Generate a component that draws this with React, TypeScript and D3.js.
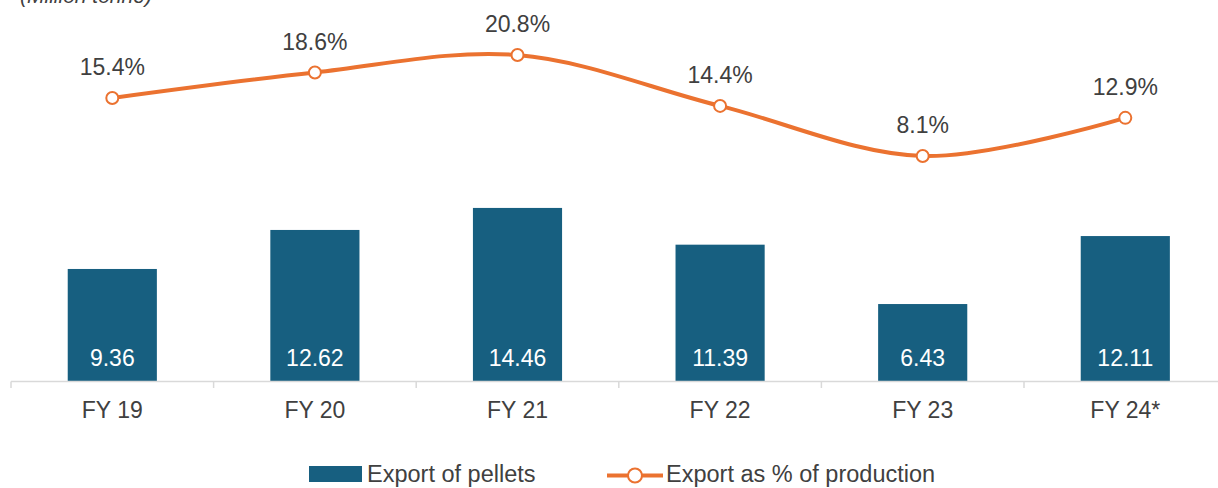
import React, { useEffect, useRef } from 'react'
import * as d3 from 'd3'

const categories = ['FY 19', 'FY 20', 'FY 21', 'FY 22', 'FY 23', 'FY 24*']
const pellets = [9.36, 12.62, 14.46, 11.39, 6.43, 12.11]
const sharePct = [15.4, 18.6, 20.8, 14.4, 8.1, 12.9]

const W = 1218
const H = 488
const BAR = '#175F80'
const ORANGE = '#EB7230'
const FONT = 'Arial, "Liberation Sans", sans-serif'

export default function App() {
  const ref = useRef<SVGSVGElement>(null)

  useEffect(() => {
    const svg = d3.select(ref.current)
    svg.selectAll('*').remove()

    const x = d3.scaleBand<string>()
      .domain(categories)
      .range([11, 1226.6])
      .paddingInner(0.56)
      .paddingOuter(0.28)

    // bars and line each have their own (hidden) axis
    const yBar = d3.scaleLinear().domain([0, 16]).range([381, 189.5])
    const yPct = d3.scaleLinear().domain([0, 25]).range([220.4, 21.65])

    const cx = (d: string) => (x(d) as number) + x.bandwidth() / 2

    // unit label, cut by the top edge
    svg.append('text')
      .attr('x', 20)
      .attr('y', 2.6)
      .attr('font-family', FONT)
      .attr('font-size', 21)
      .attr('font-style', 'italic')
      .attr('fill', '#404040')
      .text('(Million tonne)')

    // bars
    svg.selectAll('rect.bar')
      .data(pellets)
      .enter()
      .append('rect')
      .attr('class', 'bar')
      .attr('x', (d, i) => x(categories[i]) as number)
      .attr('width', x.bandwidth())
      .attr('y', d => yBar(d))
      .attr('height', d => yBar(0) - yBar(d))
      .attr('fill', BAR)

    svg.selectAll('text.barlab')
      .data(pellets)
      .enter()
      .append('text')
      .attr('class', 'barlab')
      .attr('x', (d, i) => cx(categories[i]))
      .attr('y', 366)
      .attr('text-anchor', 'middle')
      .attr('font-family', FONT)
      .attr('font-size', 23)
      .attr('fill', '#ffffff')
      .text(d => d.toFixed(2))

    // category axis
    const step = x.step()
    const left = (x(categories[0]) as number) - step * x.paddingInner() / 2
    const edges = d3.range(categories.length + 1).map(i => left + i * step)
    const axis = svg.append('g')
    axis.append('line')
      .attr('x1', left).attr('x2', W)
      .attr('y1', 381.5).attr('y2', 381.5)
      .attr('stroke', '#D9D9D9').attr('stroke-width', 1.5)
    axis.selectAll('line.tick')
      .data(edges)
      .enter()
      .append('line')
      .attr('class', 'tick')
      .attr('x1', d => d).attr('x2', d => d)
      .attr('y1', 381.5).attr('y2', 388)
      .attr('stroke', '#D9D9D9').attr('stroke-width', 1.5)
    axis.selectAll('text')
      .data(categories)
      .enter()
      .append('text')
      .attr('x', d => cx(d))
      .attr('y', 418)
      .attr('text-anchor', 'middle')
      .attr('font-family', FONT)
      .attr('font-size', 23)
      .attr('fill', '#404040')
      .text(d => d)

    // line
    const line = d3.line<number>()
      .x((d, i) => cx(categories[i]))
      .y(d => yPct(d))
      .curve(d3.curveCardinal.tension(0))

    svg.append('path')
      .datum(sharePct)
      .attr('d', line)
      .attr('fill', 'none')
      .attr('stroke', ORANGE)
      .attr('stroke-width', 4)

    svg.selectAll('circle.pt')
      .data(sharePct)
      .enter()
      .append('circle')
      .attr('class', 'pt')
      .attr('cx', (d, i) => cx(categories[i]))
      .attr('cy', d => yPct(d))
      .attr('r', 6)
      .attr('fill', '#ffffff')
      .attr('stroke', ORANGE)
      .attr('stroke-width', 2)

    svg.selectAll('text.pct')
      .data(sharePct)
      .enter()
      .append('text')
      .attr('class', 'pct')
      .attr('x', (d, i) => cx(categories[i]))
      .attr('y', d => yPct(d) - 23)
      .attr('text-anchor', 'middle')
      .attr('font-family', FONT)
      .attr('font-size', 23)
      .attr('fill', '#404040')
      .text(d => d.toFixed(1) + '%')

    // legend
    const lg = svg.append('g')
    lg.append('rect')
      .attr('x', 309).attr('y', 466)
      .attr('width', 53).attr('height', 16)
      .attr('fill', BAR)
    lg.append('text')
      .attr('x', 367).attr('y', 482)
      .attr('font-family', FONT).attr('font-size', 23.5)
      .attr('fill', '#404040')
      .text('Export of pellets')
    lg.append('line')
      .attr('x1', 607).attr('x2', 663)
      .attr('y1', 475.5).attr('y2', 475.5)
      .attr('stroke', ORANGE).attr('stroke-width', 4)
    lg.append('circle')
      .attr('cx', 635).attr('cy', 475.5).attr('r', 7)
      .attr('fill', '#ffffff')
      .attr('stroke', ORANGE).attr('stroke-width', 2)
    lg.append('text')
      .attr('x', 666).attr('y', 482)
      .attr('font-family', FONT).attr('font-size', 23.5)
      .attr('fill', '#404040')
      .text('Export as % of production')
  }, [])

  return (
    <svg
      ref={ref}
      width={W}
      height={H}
      style={{ position: 'absolute', left: 0, top: 0, background: '#ffffff' }}
    />
  )
}
